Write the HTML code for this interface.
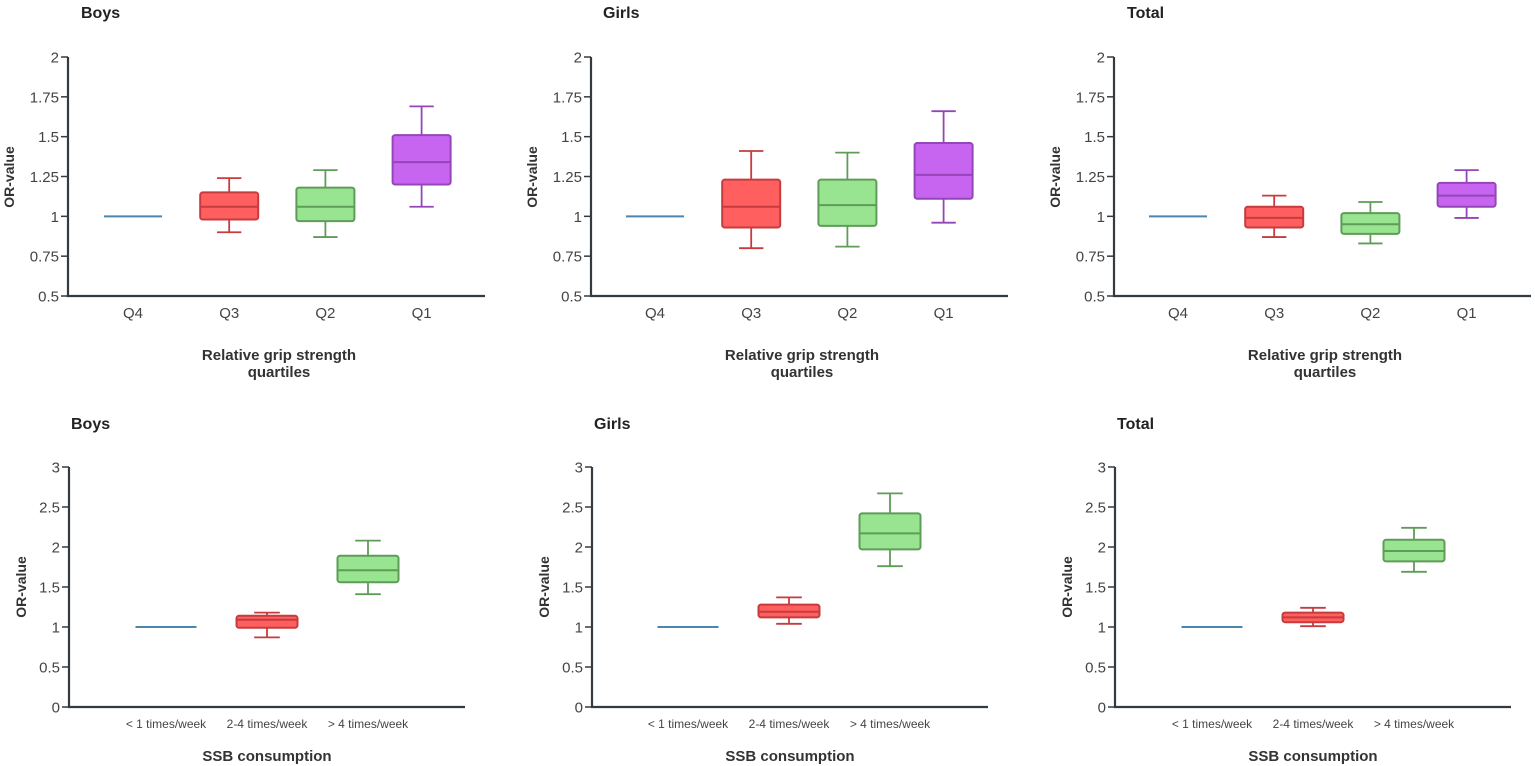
<!DOCTYPE html>
<html><head><meta charset="utf-8"><style>
body{margin:0;background:#fff;}
svg{display:block;font-family:"Liberation Sans",sans-serif;}
</style></head><body>
<svg id="c" width="1535" height="766"></svg>
<script>
const topCats=["Q4","Q3","Q2","Q1"];
const botCats=["< 1 times/week","2-4 times/week","> 4 times/week"];
// each box: [whiskerLow, q1, median, q3, whiskerHigh]; null = reference line at 1
const boysTop=[null,[0.90,0.98,1.06,1.15,1.24],[0.87,0.97,1.06,1.18,1.29],[1.06,1.20,1.34,1.51,1.69]];
const girlsTop=[null,[0.80,0.93,1.06,1.23,1.41],[0.81,0.94,1.07,1.23,1.40],[0.96,1.11,1.26,1.46,1.66]];
const totalTop=[null,[0.87,0.93,0.99,1.06,1.13],[0.83,0.89,0.95,1.02,1.09],[0.99,1.06,1.13,1.21,1.29]];
const boysBot=[null,[0.87,0.99,1.09,1.14,1.18],[1.41,1.56,1.71,1.89,2.08]];
const girlsBot=[null,[1.04,1.12,1.19,1.28,1.37],[1.76,1.97,2.17,2.42,2.67]];
const totalBot=[null,[1.01,1.06,1.12,1.18,1.24],[1.69,1.82,1.95,2.09,2.24]];
const topTicks=[0.5,0.75,1,1.25,1.5,1.75,2];
const topTickLabels=["0.5","0.75","1","1.25","1.5","1.75","2"];
const botTicks=[0,0.5,1,1.5,2,2.5,3];
const botTickLabels=["0","0.5","1","1.5","2","2.5","3"];
const refValue=1;

const svg=document.getElementById('c');
const NS="http://www.w3.org/2000/svg";
function mk(tag,attrs,parent,text){const e=document.createElementNS(NS,tag);for(const k in attrs)e.setAttribute(k,attrs[k]);if(text!==undefined)e.textContent=text;(parent||svg).appendChild(e);return e;}
const fills=["#4a86b0","#ff5f5f","#98e490","#c865f0"];
const strokes=["#4a86b0","#c63c3e","#5e9c58","#9446b8"];
const botFills=["#4a86b0","#ff5f5f","#98e490"];
const botStrokes=["#4a86b0","#c63c3e","#5e9c58"];

function panel(p){
  const g=mk('g',{});
  
  
  const y=v=>p.y0+(v-p.vmin)/(p.vmax-p.vmin)*(p.y1-p.y0);
  const x=i=>p.cx0+i*p.step;
  const t=mk('text',{x:p.tx,y:p.ty,'font-size':16,'font-weight':'bold',fill:'#222'},g,p.title);
  
  const ax=mk('path',{d:`M${p.ax} ${y(p.vmax)}V${p.y0}H${p.axEnd}`,stroke:'#333a40','stroke-width':2.2,fill:'none'},g);
  
  p.ticks.forEach((v,i)=>{
    mk('line',{x1:p.ax-7,x2:p.ax,y1:y(v),y2:y(v),stroke:'#333a40','stroke-width':1.5},g);
    const tl=mk('text',{x:p.ax-9,y:y(v)+5.5,'text-anchor':'end','font-size':p.tickSize,fill:'#444'},g,p.tickLabels[i]);
    
  });
  const yl=mk('text',{transform:`translate(${p.ylx},${p.yly}) rotate(-90)`,'text-anchor':'middle','font-size':14,'font-weight':'bold',fill:'#333'},g,'OR-value');
  
  p.cats.forEach((c,i)=>{
    const cl=mk('text',{x:x(i),y:p.y0+p.catDy,'text-anchor':'middle','font-size':p.catSize,fill:'#444'},g,c);
    
    const d=p.data[i];
    if(d===null){
      const l=mk('line',{x1:x(i)-p.bw/2,x2:x(i)+p.bw/2,y1:y(refValue),y2:y(refValue),stroke:p.fills[i],'stroke-width':2},g);
      
      return;
    }
    const bg=mk('g',{},g);
    
    
    const s=p.strokes[i],cw=p.bw*0.42;
    mk('line',{x1:x(i),x2:x(i),y1:y(d[0]),y2:y(d[4]),stroke:s,'stroke-width':1.8},bg);
    mk('line',{x1:x(i)-cw/2,x2:x(i)+cw/2,y1:y(d[0]),y2:y(d[0]),stroke:s,'stroke-width':1.8},bg);
    mk('line',{x1:x(i)-cw/2,x2:x(i)+cw/2,y1:y(d[4]),y2:y(d[4]),stroke:s,'stroke-width':1.8},bg);
    mk('rect',{x:x(i)-p.bw/2,y:y(d[3]),width:p.bw,height:y(d[1])-y(d[3]),rx:2.5,fill:p.fills[i],stroke:s,'stroke-width':2},bg);
    mk('line',{x1:x(i)-p.bw/2,x2:x(i)+p.bw/2,y1:y(d[2]),y2:y(d[2]),stroke:s,'stroke-width':2},bg);
  });
  p.xTitle.forEach((line,k)=>{
    const xt=mk('text',{x:p.xtx,y:p.xty+k*17,'text-anchor':'middle','font-size':15,'font-weight':'bold',fill:'#333'},g,line);
    
  });
}
const tops=[["boys",68,81,boysTop,"Boys"],["girls",591,603,girlsTop,"Girls"],["total",1114,1127,totalTop,"Total"]];
const topCx=[133,655,1178];
tops.forEach((t,k)=>{
  panel({name:t[0]+'-grip-chart',title:t[4],tx:t[2],ty:18,ax:t[1],axEnd:t[1]+417,y0:296,y1:57,vmin:0.5,vmax:2,
    ticks:topTicks,tickLabels:topTickLabels,tickSize:15,ylx:t[1]-54,yly:177,cats:topCats,cx0:topCx[k],step:96.2,bw:58,
    catDy:22,catSize:15,data:t[3],fills:fills,strokes:strokes,xTitle:["Relative grip strength","quartiles"],
    xtx:t[1]+211,xty:360});
});
const bots=[["boys",69,71,boysBot,"Boys"],["girls",592,594,girlsBot,"Girls"],["total",1115,1117,totalBot,"Total"]];
const botCx=[166,688,1212];
bots.forEach((t,k)=>{
  panel({name:t[0]+'-ssb-chart',title:t[4],tx:t[2],ty:429,ax:t[1],axEnd:t[1]+396,y0:707,y1:467,vmin:0,vmax:3,
    ticks:botTicks,tickLabels:botTickLabels,tickSize:15,ylx:t[1]-43,yly:587,cats:botCats,cx0:botCx[k],step:101,bw:61,
    catDy:21,catSize:12,data:t[3],fills:botFills,strokes:botStrokes,xTitle:["SSB consumption"],
    xtx:t[1]+198,xty:761});
});
</script>
</body></html>
